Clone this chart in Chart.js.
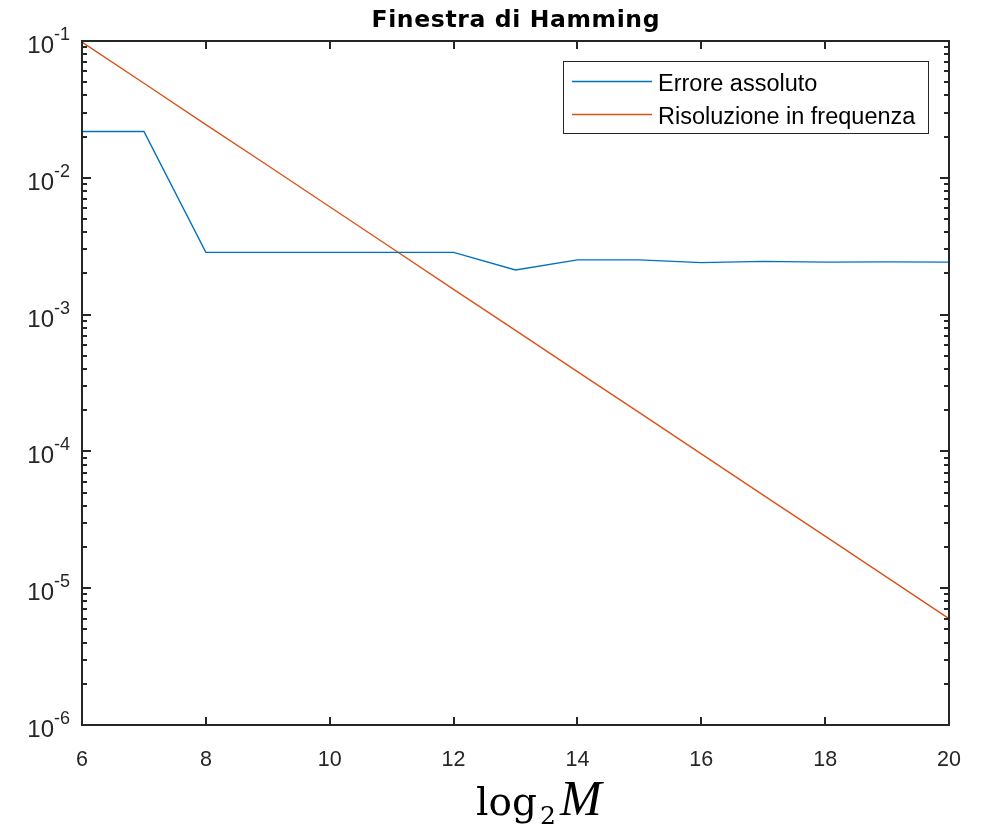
<!DOCTYPE html>
<html>
<head>
<meta charset="utf-8">
<script src="https://cdn.jsdelivr.net/npm/chart.js@4.4.1/dist/chart.umd.min.js"></script>
<style>
  html, body { margin: 0; padding: 0; background: #fff; }
  #wrap { width: 987px; height: 826px; }
</style>
</head>
<body>
<div id="wrap"><canvas id="chart" width="987" height="826"></canvas></div>
<script>
// Values
const log2M = [6, 7, 8, 9, 10, 11, 12, 13, 14, 15, 16, 17, 18, 19, 20];
const erroreAssoluto = [0.0218, 0.0218, 0.00285, 0.00285, 0.00285, 0.00285, 0.00285,
  0.00212, 0.00251, 0.00251, 0.00240, 0.00245, 0.00242, 0.00243, 0.00242];
const risoluzioneFrequenza = [0.0982, 0.0491, 0.0245, 0.0123, 0.00614, 0.00307, 0.00153,
  0.000767, 0.000383, 0.000192, 0.0000959, 0.0000479, 0.0000240, 0.0000120, 0.00000599];

const xTicks = [6, 8, 10, 12, 14, 16, 18, 20];
const yDecades = [1e-6, 1e-5, 1e-4, 1e-3, 1e-2, 1e-1];
const yMinorSteps = [2, 3, 4, 5, 6, 7, 8, 9];

const titleText = "Finestra di Hamming";
const seriesNames = ["Errore assoluto", "Risoluzione in frequenza"];
const seriesColors = ["#0072BD", "#D95319"];

const axisColor = "#262626";
const sansFont = '"Liberation Sans", Arial, sans-serif';
const serifFont = '"Liberation Serif", "Times New Roman", serif';
const mathFont = '"DejaVu Serif", serif';

// MATLAB style box: frame, inward ticks on all sides, 10^n labels, title, legend
const matlabAxes = {
  id: "matlabAxes",
  afterDatasetsDraw(chart) {
    const { ctx, chartArea: a, scales: { x, y } } = chart;
    ctx.save();

    ctx.strokeStyle = axisColor;
    ctx.lineWidth = 2;
    ctx.beginPath();
    x.ticks.forEach((t) => {
      const px = Math.round(x.getPixelForValue(t.value));
      ctx.moveTo(px, a.bottom); ctx.lineTo(px, a.bottom - 8);
      ctx.moveTo(px, a.top); ctx.lineTo(px, a.top + 8);
    });
    y.ticks.forEach((t) => {
      const py = Math.round(y.getPixelForValue(t.value));
      const len = t.major ? 9 : 5;
      ctx.moveTo(a.left, py); ctx.lineTo(a.left + len, py);
      ctx.moveTo(a.right, py); ctx.lineTo(a.right - len, py);
    });
    ctx.stroke();
    ctx.strokeRect(a.left, a.top, a.right - a.left, a.bottom - a.top);

    // y labels as 10 with superscript exponent
    ctx.fillStyle = axisColor;
    ctx.textBaseline = "alphabetic";
    ctx.textAlign = "left";
    y.ticks.filter((t) => t.major).forEach((t) => {
      const py = y.getPixelForValue(t.value);
      const exp = String(Math.round(Math.log10(t.value)));
      ctx.font = "18px " + sansFont;
      const ew = ctx.measureText(exp).width;
      ctx.font = "24px " + sansFont;
      const bw = ctx.measureText("10").width;
      const right = a.left - 12;
      ctx.fillText("10", right - ew - bw, py + 12);
      ctx.font = "18px " + sansFont;
      ctx.fillText(exp, right - ew, py - 1);
    });

    // x axis label: log_2 M
    ctx.fillStyle = "#000";
    ctx.font = "39px " + mathFont;
    ctx.fillText("log", 476, 815);
    ctx.font = "25px " + mathFont;
    ctx.fillText("2", 540, 824);
    ctx.font = "italic 50px " + serifFont;
    ctx.fillText("M", 560, 815);

    // title
    ctx.font = 'bold 23.5px "DejaVu Sans", ' + sansFont;
    const tw = ctx.measureText(titleText).width;
    const titleWidth = 288;
    const spacing = (titleWidth - tw) / (titleText.length - 1);
    ctx.letterSpacing = spacing + "px";
    ctx.fillText(titleText, (a.left + a.right) / 2 - titleWidth / 2, 27);
    ctx.letterSpacing = "0px";

    // legend
    const lx = 563, ly = 61, lw = 365, lh = 72;
    ctx.fillStyle = "#fff";
    ctx.fillRect(lx, ly, lw, lh);
    ctx.strokeStyle = axisColor;
    ctx.lineWidth = 1;
    ctx.strokeRect(lx + 0.5, ly + 0.5, lw, lh);
    const rowY = [81.5, 114.5];
    ctx.font = "23.5px " + sansFont;
    chart.data.datasets.forEach((ds, i) => {
      ctx.strokeStyle = ds.borderColor;
      ctx.lineWidth = 1.4;
      ctx.beginPath();
      ctx.moveTo(572, rowY[i]); ctx.lineTo(652, rowY[i]);
      ctx.stroke();
      ctx.fillStyle = "#000";
      ctx.fillText(ds.label, 658, rowY[i] + 9);
    });

    ctx.restore();
  },
};

new Chart(document.getElementById("chart"), {
  type: "line",
  data: {
    datasets: [
      {
        label: seriesNames[0],
        data: log2M.map((m, i) => ({ x: m, y: erroreAssoluto[i] })),
        borderColor: seriesColors[0],
        borderWidth: 1.4,
        pointRadius: 0,
        tension: 0,
      },
      {
        label: seriesNames[1],
        data: log2M.map((m, i) => ({ x: m, y: risoluzioneFrequenza[i] })),
        borderColor: seriesColors[1],
        borderWidth: 1.4,
        pointRadius: 0,
        tension: 0,
      },
    ],
  },
  options: {
    responsive: false,
    animation: false,
    layout: { padding: { top: 41, right: 38, left: 0, bottom: 0 } },
    plugins: {
      legend: { display: false },
      title: { display: false },
      tooltip: { enabled: false },
    },
    scales: {
      x: {
        type: "linear",
        min: 6,
        max: 20,
        afterBuildTicks: (scale) => {
          scale.ticks = xTicks.map((v) => ({ value: v }));
        },
        afterFit: (scale) => { scale.height = 101; },
        grid: { display: false },
        border: { display: false },
        ticks: {
          color: axisColor,
          font: { family: sansFont, size: 21.5 },
          padding: 14,
          maxRotation: 0,
          autoSkip: false,
        },
      },
      y: {
        type: "logarithmic",
        min: 1e-6,
        max: 1e-1,
        afterBuildTicks: (scale) => {
          const ticks = [];
          yDecades.forEach((d, i) => {
            ticks.push({ value: d, major: true });
            if (i < yDecades.length - 1) {
              yMinorSteps.forEach((m) => ticks.push({ value: d * m, major: false }));
            }
          });
          scale.ticks = ticks;
        },
        afterFit: (scale) => { scale.width = 82; },
        grid: { display: false },
        border: { display: false },
        ticks: { display: false },
      },
    },
  },
  plugins: [matlabAxes],
});
</script>
</body>
</html>
